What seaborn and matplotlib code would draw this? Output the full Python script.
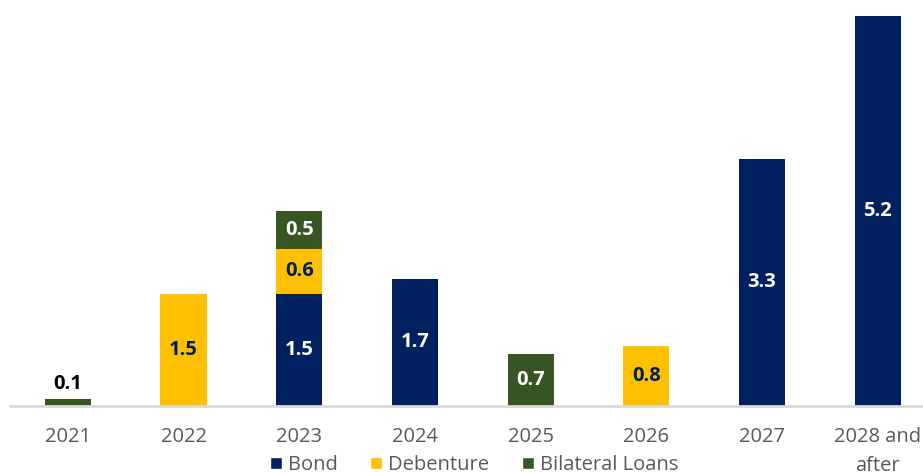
import numpy as np
import pandas as pd
import matplotlib
matplotlib.use("Agg")
import matplotlib.pyplot as plt
import seaborn as sns
from matplotlib.patches import Patch

# data (bn)
years = ['2021', '2022', '2023', '2024', '2025', '2026', '2027', '2028 and\nafter']
bond = [0, 0, 1.5, 1.7, 0, 0, 3.3, 5.2]
debenture = [0, 1.5, 0.6, 0, 0, 0.8, 0, 0]
bilateral = [0.1, 0, 0.5, 0, 0.7, 0, 0, 0]

navy = '#002060'
yellow = '#FFC000'
green = '#375623'
grey = '#595959'

sns.set_theme(style='white')
plt.rcParams['font.family'] = ['Open Sans', 'DejaVu Sans']

df = pd.DataFrame({'year': years, 'Bond': bond, 'Debenture': debenture,
                   'Bilateral Loans': bilateral})
df['deb_top'] = df['Bond'] + df['Debenture']
df['total'] = df['deb_top'] + df['Bilateral Loans']

fig = plt.figure(figsize=(9.23, 4.73), dpi=100)
ax = fig.add_axes([10 / 923, 67 / 473, 925.6 / 923, 405 / 473])

# stacked look: draw cumulative heights back to front
sns.barplot(data=df, x='year', y='total', color=green, width=0.4,
            saturation=1, linewidth=0, ax=ax)
sns.barplot(data=df, x='year', y='deb_top', color=yellow, width=0.4,
            saturation=1, linewidth=0, ax=ax)
sns.barplot(data=df, x='year', y='Bond', color=navy, width=0.4,
            saturation=1, linewidth=0, ax=ax)

# value labels
for i in range(len(years)):
    base = 0
    for val, txtcol in [(bond[i], 'white'), (debenture[i], navy), (bilateral[i], 'white')]:
        if val <= 0:
            continue
        if val < 0.3:
            ax.text(i, base + val + 0.06, f'{val:.1f}', ha='center', va='bottom',
                    fontsize=14.5, fontweight='bold', color='black')
        else:
            ax.text(i, base + val / 2, f'{val:.1f}', ha='center', va='center',
                    fontsize=14.5, fontweight='bold', color=txtcol)
        base += val

ax.set_xlim(-0.5, 7.5)
ax.set_ylim(0, 5.4)
ax.set_xlabel('')
ax.set_ylabel('')
ax.set_yticks([])
ax.tick_params(axis='x', length=0, pad=15, labelsize=14.5, labelcolor=grey)
for lbl in ax.get_xticklabels():
    lbl.set_linespacing(1.6)
sns.despine(ax=ax, left=True)
ax.spines['bottom'].set_color('#d9d9d9')
ax.spines['bottom'].set_linewidth(2)

handles = [Patch(facecolor=navy), Patch(facecolor=yellow), Patch(facecolor=green)]
fig.legend(handles, ['Bond', 'Debenture', 'Bilateral Loans'], loc='center',
           bbox_to_anchor=(474 / 923, 8 / 473), ncol=3, frameon=False,
           fontsize=14.5, handlelength=0.6, handleheight=0.6,
           handletextpad=0.3, columnspacing=1.6, labelcolor=grey)

fig.savefig('out.png', dpi=100)
